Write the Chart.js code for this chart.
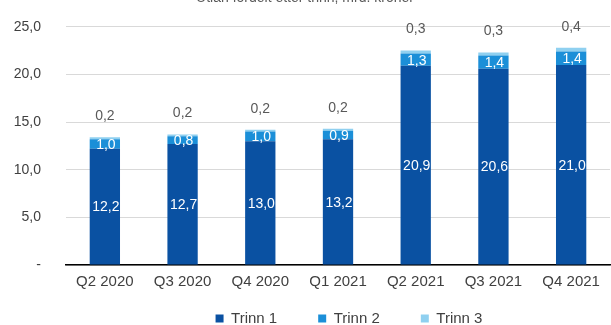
<!DOCTYPE html>
<html lang="no">
<head>
<meta charset="UTF-8">
<title>Utlån fordelt etter trinn</title>
<script src="https://cdn.jsdelivr.net/npm/chart.js"></script>
<style>
    body { margin: 0; background: #fff; overflow: hidden; }
    #wrap { position: absolute; left: 0; top: -10px; width: 611px; height: 335px; }
</style>
</head>
<body>
<div id="wrap">
    <canvas id="myChart"></canvas>
</div>

<script>
    // data lest av bildet
    const kvartaler = ['Q2 2020', 'Q3 2020', 'Q4 2020', 'Q1 2021', 'Q2 2021', 'Q3 2021', 'Q4 2021'];
    const trinn1 = [12.2, 12.7, 13.0, 13.2, 20.9, 20.6, 21.0];
    const trinn2 = [1.0, 0.8, 1.0, 0.9, 1.3, 1.4, 1.4];
    const trinn3 = [0.2, 0.2, 0.2, 0.2, 0.3, 0.3, 0.4];
    const yTicks = [0, 5, 10, 15, 20, 25];

    const FONT = '"Liberation Sans", Arial, sans-serif';

    function komma(v) {
        return v.toFixed(1).replace('.', ',');
    }

    // enkel plugin for tallene på søylene
    const verdiEtiketter = {
        id: 'verdiEtiketter',
        afterDatasetsDraw(chart) {
            const ctx = chart.ctx;
            ctx.save();
            ctx.font = '14px ' + FONT;
            ctx.textAlign = 'center';
            ctx.textBaseline = 'middle';
            chart.data.datasets.forEach(function (ds, i) {
                const meta = chart.getDatasetMeta(i);
                meta.data.forEach(function (bar, j) {
                    const tekst = komma(ds.data[j]);
                    if (i == 2) {
                        ctx.fillStyle = '#595959';
                        ctx.fillText(tekst, bar.x, bar.y - 21);
                    } else {
                        ctx.fillStyle = '#ffffff';
                        ctx.fillText(tekst, bar.x + 1, (bar.y + bar.base) / 2 + 1);
                    }
                });
            });
            ctx.restore();
        }
    };

    // legenden trenger stor avstand mellom elementene, men lite luft over seg:
    // boksen gjøres lav i layouten og strekkes opp igjen etterpå
    const flyttLegende = {
        id: 'flyttLegende',
        afterLayout(chart) {
            const l = chart.legend;
            l.top = l.bottom - 55;
            l.height = 55;
            // referansen har legenden litt til høyre for midten
            l.left += 88;
            l.width -= 88;
        }
    };

    const ctx = document.getElementById('myChart');

    new Chart(ctx, {
        type: 'bar',
        data: {
            labels: kvartaler,
            datasets: [{
                label: 'Trinn 1',
                data: trinn1,
                backgroundColor: '#0a51a2'
            },
            {
                label: 'Trinn 2',
                data: trinn2,
                backgroundColor: '#1b8fd8'
            },
            {
                label: 'Trinn 3',
                data: trinn3,
                backgroundColor: '#8fd0f0'
            }]
        },
        options: {
            responsive: true,
            maintainAspectRatio: false,
            animation: false,
            datasets: {
                bar: { categoryPercentage: 1, barPercentage: 0.39 }
            },
            layout: {
                padding: { top: 0, right: 1, bottom: 0, left: 0 }
            },
            plugins: {
                title: {
                    display: true,
                    text: 'Utlån fordelt etter trinn, mrd. kroner',
                    color: '#595959',
                    font: { size: 14, family: FONT, weight: 'normal' },
                    padding: { top: 0, bottom: 20 }
                },
                legend: {
                    position: 'bottom',
                    maxHeight: 26,
                    labels: {
                        boxWidth: 8,
                        boxHeight: 8,
                        padding: 41,
                        color: '#404040',
                        font: { size: 15, family: FONT }
                    }
                },
                tooltip: { enabled: false }
            },
            scales: {
                x: {
                    stacked: true,
                    grid: { display: false, drawTicks: false },
                    border: { color: '#000000', width: 1.5 },
                    ticks: {
                        color: '#404040',
                        padding: 8,
                        font: { size: 15, family: FONT }
                    }
                },
                y: {
                    stacked: true,
                    min: 0,
                    max: 25,
                    afterFit: function (s) { s.width = 66; },
                    afterBuildTicks: function (s) {
                        s.ticks = yTicks.map(v => ({ value: v }));
                    },
                    grid: { color: '#d9d9d9', drawTicks: false },
                    border: { display: false },
                    ticks: {
                        color: '#404040',
                        padding: 25,
                        font: { size: 14, family: FONT },
                        callback: function (v) {
                            return v === 0 ? '-' : komma(v);
                        }
                    }
                }
            }
        },
        plugins: [verdiEtiketter, flyttLegende]
    });
</script>
</body>
</html>
